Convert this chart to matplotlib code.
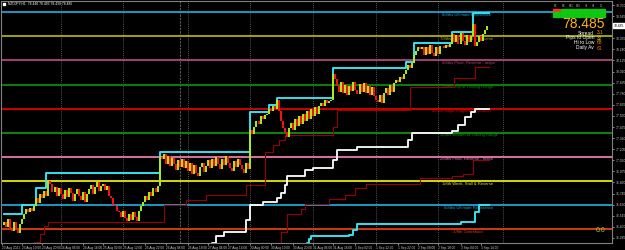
import matplotlib
matplotlib.use("Agg")
import matplotlib.pyplot as plt
from matplotlib.patches import Rectangle
from matplotlib.transforms import blended_transform_factory

plt.rcParams['font.family'] = ['Liberation Sans', 'DejaVu Sans']

# NZDJPY H1 closes (one value per bar)
first_open = 76.42
closes = [
    76.45, 76.40, 76.48, 76.38, 76.36, 76.45, 76.39, 76.34, 76.43,
    76.48, 76.53, 76.58, 76.55, 76.60, 76.56, 76.62,
    76.70, 76.65, 76.74, 76.70, 76.77, 76.72, 76.88,
    76.84, 76.76, 76.81, 76.72, 76.80, 76.74, 76.69, 76.78, 76.71, 76.80,
    76.75, 76.67, 76.74, 76.79, 76.72, 76.68, 76.76, 76.66, 76.74, 76.79,
    76.83, 76.74, 76.81, 76.86, 76.77, 76.82,
    76.84, 76.78, 76.82, 76.72, 76.70, 76.63, 76.62, 76.56, 76.55, 76.50, 76.56, 76.49,
    76.46, 76.53, 76.47, 76.55, 76.50, 76.46,
    76.56, 76.62, 76.66, 76.72, 76.68, 76.76, 76.72, 76.80, 76.76, 76.82,
    77.12,
    77.10, 77.15, 77.05, 77.13, 77.03, 77.11, 77.05, 76.99, 77.09, 77.02,
    77.10, 77.01, 77.08, 76.98, 77.06, 76.95, 77.04, 76.96, 76.93, 77.02,
    77.06, 76.97, 77.03, 77.09, 77.01, 77.10, 77.03, 77.12, 77.05, 77.00,
    77.10, 77.04, 77.13, 77.06, 77.01, 76.98, 77.08, 77.02, 77.10, 77.04,
    77.00, 76.96, 77.06, 77.00,
    77.40, 77.36, 77.44, 77.50, 77.47, 77.55, 77.52,
    77.56, 77.57, 77.62, 77.60, 77.65, 77.62,
    77.72,
    77.60, 77.50, 77.42, 77.38, 77.33,
    77.42, 77.48, 77.40, 77.52, 77.45, 77.55, 77.47, 77.57,
    77.50, 77.60, 77.52, 77.62, 77.55, 77.64, 77.57, 77.65,
    77.68, 77.65, 77.71, 77.68, 77.70, 77.72,
    77.98,
    77.93, 77.86, 77.80, 77.90, 77.79, 77.87, 77.77, 77.86, 77.81, 77.90,
    77.82, 77.78, 77.88, 77.80, 77.89, 77.79, 77.86, 77.77, 77.85, 77.76,
    77.71, 77.69, 77.77, 77.68, 77.79, 77.84, 77.77, 77.87, 77.80, 77.89,
    77.92, 77.90, 77.95, 77.93, 77.98, 78.03, 78.08, 78.05, 78.10, 78.18, 78.22, 78.27, 78.24,
    78.27, 78.18, 78.26, 78.19, 78.29, 78.20, 78.17, 78.26, 78.19, 78.28,
    78.28, 78.25, 78.29, 78.27, 78.30,
    78.40, 78.32, 78.39, 78.30, 78.41, 78.33, 78.29, 78.39, 78.32, 78.38,
    78.50, 78.28,
    78.32, 78.38, 78.33, 78.40, 78.44, 78.485,
]

# Murrey math levels
levels = [78.625, 78.375, 78.125, 77.875, 77.625, 77.375, 77.125, 76.875, 76.625, 76.375]
level_names = [
    "8/8ths Ultimate Resistance", "7/8ths Weak, Stall & Reverse",
    "6/8ths Pivot, Reverse - major", "5/8ths Top of Trading Range",
    "4/8ths Major Support/Resistance", "3/8ths Bottom of Trading Range",
    "2/8ths Pivot, Reverse - major", "1/8th Weak, Stall & Reverse",
    "0/8ths Ultimate Resistance", "-1/8th Overshoot",
]
level_colors = ['#1AA6D6', '#B0B000', '#B0467A', '#0B8A0B', '#E00000',
                '#0E900E', '#E87AB0', '#E8E800', '#1AA6D6', '#E0400E']
level_label_bar = [217, 216, 217, 217, 212, 216, 216, 217, 218, 222]

# channel lines (bar where value changes, value)
upper_bars = [0, 9, 16, 21, 77, 122, 131, 135, 163, 199, 203, 222, 232]
upper_vals = [76.53, 76.63, 76.80, 76.96, 77.18, 77.59, 77.66, 77.74, 78.05, 78.11, 78.31, 78.42, 78.62]
lower_bars = [0, 15, 18, 20, 22, 79, 90, 100, 120, 129, 133, 136, 139, 163, 165, 201, 223, 233]
lower_vals = [76.10, 76.24, 76.33, 76.41, 76.45, 76.63, 76.68, 76.73, 76.83, 77.18, 77.25,
              77.30, 77.35, 77.44, 77.61, 77.85, 77.94, 78.06]
lower2_bars = [130, 133, 137, 140, 147, 149, 161, 169, 174, 179, 206, 222, 227, 232]
lower2_vals = [76.10, 76.23, 76.35, 76.53, 76.58, 76.64, 76.69, 76.73, 76.80, 76.84,
               76.91, 76.93, 76.95, 77.09]
white_bars = [96, 103, 105, 109, 120, 122, 128, 135, 137, 139, 140, 149, 153, 163, 165,
              175, 200, 202, 222, 225, 228, 231, 233]
white_vals = [76.10, 76.23, 76.30, 76.35, 76.47, 76.63, 76.66, 76.70, 76.75, 76.83, 76.93,
              76.99, 77.01, 77.09, 77.20, 77.23, 77.30, 77.37, 77.39, 77.46, 77.54, 77.59, 77.62]
cyan2_bars = [146, 150, 151, 152, 171, 173, 175, 226, 233, 235]
cyan2_vals = [76.10, 76.23, 76.27, 76.30, 76.31, 76.37, 76.43, 76.45, 76.55, 76.63]

x_label_bars = [-1, 9, 19, 28, 39, 49, 59, 70, 80, 91, 101, 111, 122, 132, 143, 153,
                163, 174, 184, 195, 205, 215, 226, 236]
x_labels = ["23 Aug 2021", "23 Aug 10:00", "23 Aug 20:00", "24 Aug 06:00", "24 Aug 16:00",
            "25 Aug 02:00", "25 Aug 12:00", "25 Aug 22:00", "26 Aug 08:00", "26 Aug 18:00",
            "27 Aug 04:00", "27 Aug 14:00", "30 Aug 00:00", "30 Aug 10:00", "30 Aug 20:00",
            "31 Aug 06:00", "31 Aug 16:00", "1 Sep 02:00", "1 Sep 12:00", "1 Sep 22:00",
            "2 Sep 08:00", "2 Sep 18:00", "3 Sep 04:00", "3 Sep 14:00"]
grid_bars = [28, 59, 91, 122, 153, 184, 215, 247]
y_ticks = [76.285, 76.400, 76.515, 76.630, 76.745, 76.860, 76.975, 77.090, 77.205, 77.320,
           77.435, 77.550, 77.665, 77.780, 77.895, 78.010, 78.125, 78.240, 78.355,
           78.585, 78.700]

info_names = ["Spread", "Pips to Open", "Hi to Low", "Daily Av"]
info_values = ["3.1", "32", "68", "61"]
info_colors = ['#FF9900', '#C8E000', '#FF8C00', '#FF6000']
tf_names = ["M1", "M5", "M15", "M30", "H1", "H4", "D1"]

W, H = 625, 250
fig = plt.figure(figsize=(6.25, 2.5), dpi=100, facecolor='black')
ax = fig.add_axes([1 / W, 7 / H, 611 / W, 242 / H])
ax.set_facecolor('black')
ax.set_xlim(-1.49, 301.0)
ax.set_ylim(76.232, 78.742)

for s in ax.spines.values():
    s.set_color('#808080')
    s.set_linewidth(0.8)

# grid
for b in grid_bars:
    ax.axvline(b, color='#6E6E6E', lw=0.6, ls=(0, (1, 1.5)), zorder=0.5)
ax.axvline(87, color='#5A5A5A', lw=0.8, ls=(0, (2, 1)), zorder=0.5)

# murrey levels
for lv, name, col, lb in zip(levels, level_names, level_colors, level_label_bar):
    ax.axhline(lv, color=col, lw=1.3, zorder=1)
    ax.text(lb, lv - 0.006, name, color=col, fontsize=3.0, va='top', ha='left', zorder=1.5)

n = len(closes)


def step_line(bars, vals, color, lw):
    ax.step(bars + [n], vals + [vals[-1]], where='post', color=color, lw=lw, zorder=3)


step_line(lower_bars, lower_vals, '#950000', 0.8)
step_line(lower2_bars, lower2_vals, '#950000', 0.8)
step_line(white_bars, white_vals, '#FFFFFF', 1.3)
step_line(cyan2_bars, cyan2_vals, '#30E4F0', 1.4)
step_line(upper_bars, upper_vals, '#30E4F0', 1.4)

# candles
opens = [first_open] + closes[:-1]
up_x = [i for i in range(n) if closes[i] >= opens[i]]
dn_x = [i for i in range(n) if closes[i] < opens[i]]
ax.vlines(up_x, [opens[i] for i in up_x], [closes[i] for i in up_x],
          color='#A6F01C', lw=1.4, zorder=4)
ax.vlines(dn_x, [opens[i] for i in dn_x], [closes[i] for i in dn_x],
          color='#FF1010', lw=1.4, zorder=4)

# axes ticks
ax.set_xticks(x_label_bars)
ax.set_xticklabels(x_labels, ha='left')
ax.yaxis.tick_right()
ax.set_yticks(y_ticks)
ax.set_yticklabels([f"{v:.3f}" for v in y_ticks])
ax.tick_params(axis='x', colors='#C8C8C8', labelsize=2.3, length=1.5, width=0.5, pad=1)
ax.tick_params(axis='y', colors='#C8C8C8', labelsize=2.4, length=1.5, width=0.5, pad=1)

# current price box on price scale
trans = blended_transform_factory(ax.transAxes, ax.transData)
ax.text(1.003, closes[-1], f"{closes[-1]:.3f}", transform=trans, fontsize=2.4, color='black',
        va='center', ha='left', zorder=6,
        bbox=dict(boxstyle='square,pad=0.15', fc='white', ec='white'))

# top-left caption
fig.patches.append(Rectangle((3 / W, 1 - 5 / H), 2 / W, 2 / H, transform=fig.transFigure,
                             color='white'))
fig.text(8 / W, 1 - 4 / H, "NZDJPY,H1  78.448 78.493 78.439 78.485", color='white',
         fontsize=2.4, va='center', ha='left')

# top-right panel
for k, name in enumerate(tf_names):
    x0 = 553 + k * 7.5
    fig.text((x0 + 3) / W, 1 - 6 / H, name, color='#B0B0B0', fontsize=1.8,
             ha='center', va='center')
    for r in range(3):
        col = '#FF3030' if (k == 0 and r == 0) else '#10C810'
        fig.patches.append(Rectangle((x0 / W, 1 - (10.5 + r * 3) / H), 6.5 / W, 1.8 / H,
                                     transform=fig.transFigure, color=col))
fig.text(605 / W, 1 - 24 / H, f"{closes[-1]:.3f}", color='#FFB21A', fontsize=10,
         ha='right', va='center')
for k, (nm, val, vc) in enumerate(zip(info_names, info_values, info_colors)):
    yy = 1 - (33 + k * 5) / H
    fig.text(594 / W, yy, nm, color='white', fontsize=3.5, ha='right', va='center')
    fig.text(597 / W, yy, val, color=vc, fontsize=3.5, ha='left', va='center')

fig.text(605 / W, 1 - 230 / H, "0.0", color='#9ACD32', fontsize=5, ha='right', va='center')

fig.savefig('out.png', dpi=100, facecolor='black')
